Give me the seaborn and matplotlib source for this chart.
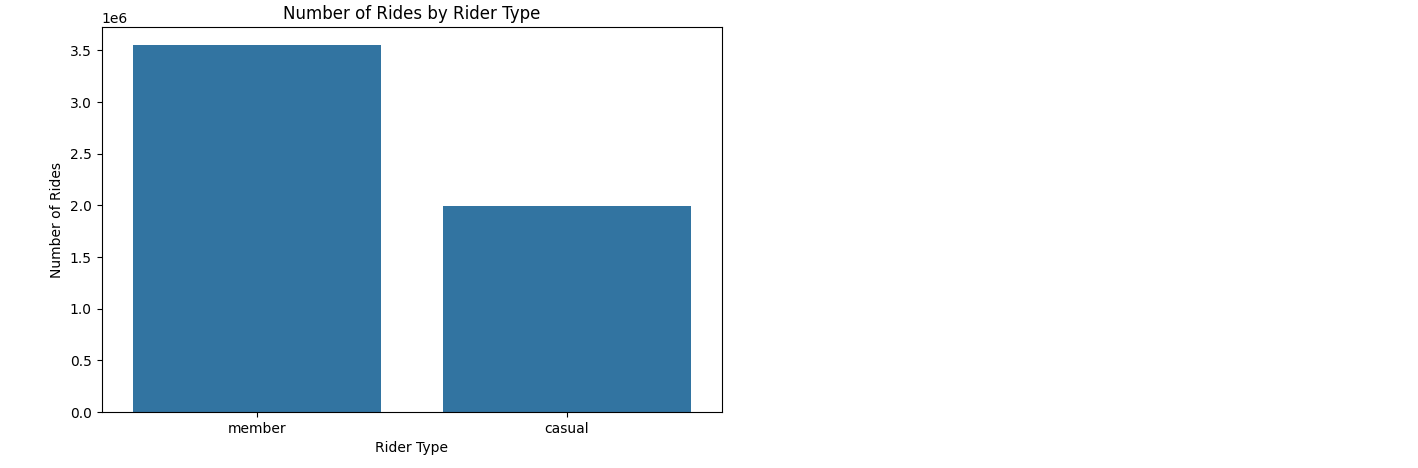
import matplotlib
matplotlib.use("Agg")
import matplotlib.pyplot as plt
import seaborn as sns
import pandas as pd

rider_types = ["member", "casual"]
ride_counts = [3550000, 1990000]

df = pd.DataFrame({"Rider Type": rider_types, "Number of Rides": ride_counts})

fig = plt.figure(figsize=(14.18, 4.68), dpi=100)
ax = fig.add_axes([101.5 / 1418, 56 / 468, 620.5 / 1418, 385 / 468])
sns.barplot(data=df, x="Rider Type", y="Number of Rides", ax=ax)
ax.set_title("Number of Rides by Rider Type")
ax.set_xlabel("Rider Type")
ax.set_ylabel("Number of Rides")
fig.savefig("out.png", dpi=100)
